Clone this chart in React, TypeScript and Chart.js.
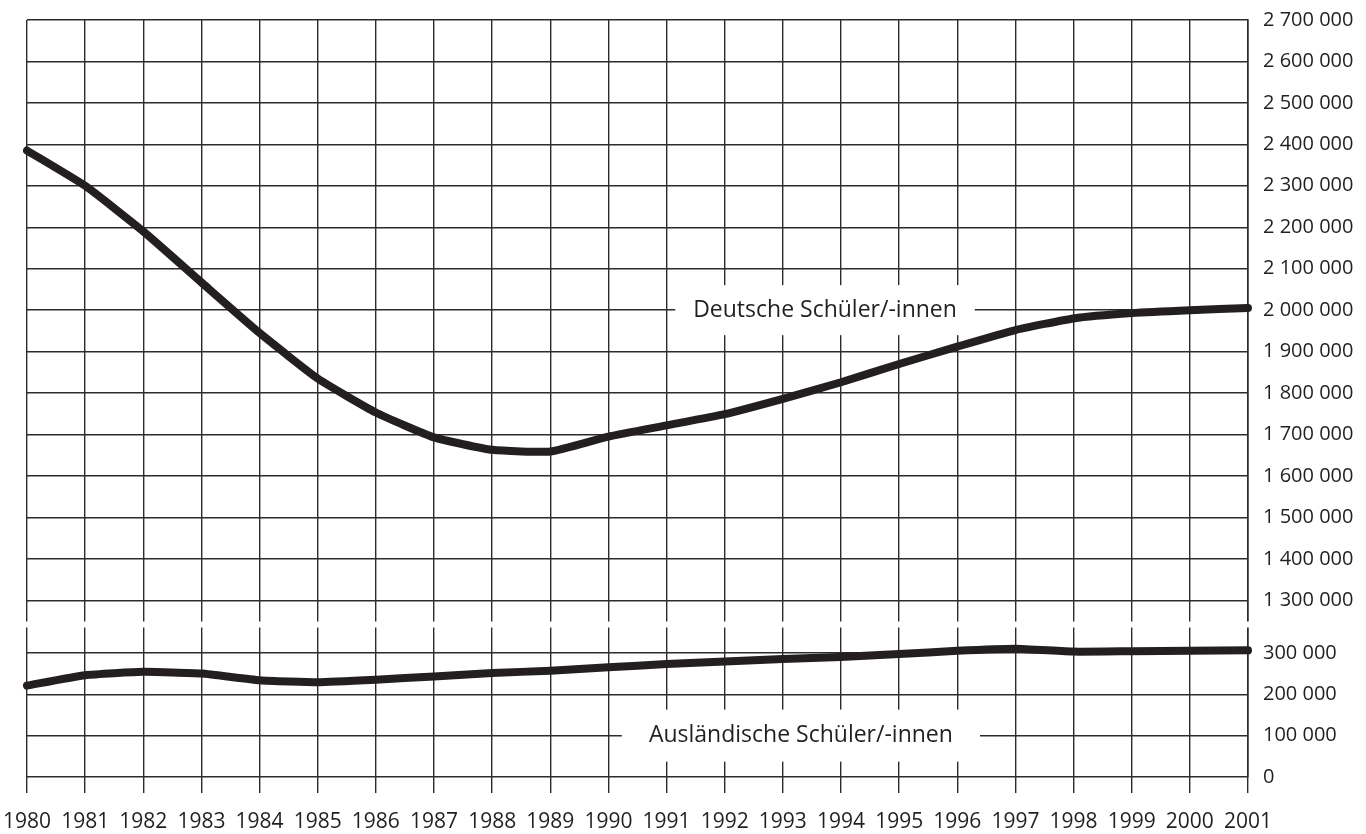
import React, { useEffect, useRef } from "react";
import { Chart, registerables } from "chart.js";

Chart.register(...registerables);

const years = [
  "1980", "1981", "1982", "1983", "1984", "1985", "1986", "1987", "1988", "1989", "1990",
  "1991", "1992", "1993", "1994", "1995", "1996", "1997", "1998", "1999", "2000", "2001",
];

const deutscheSchueler = [
  2385000, 2300000, 2190000, 2067000, 1945000, 1835000, 1753000, 1693000, 1663000, 1659000, 1695000,
  1722000, 1749000, 1786000, 1826000, 1870000, 1912000, 1952000, 1980000, 1993000, 2000000, 2005000,
];

const auslaendischeSchueler = [
  221000, 246000, 254000, 250000, 234000, 229000, 235000, 243000, 251000, 257000, 265000,
  273000, 279000, 285000, 290000, 297000, 305000, 310000, 303000, 304000, 305000, 306000,
];

const upperTicks = [1300000, 1400000, 1500000, 1600000, 1700000, 1800000, 1900000, 2000000, 2100000, 2200000, 2300000, 2400000, 2500000, 2600000, 2700000];
const lowerTicks = [0, 100000, 200000, 300000];

const seriesLabels = ["Deutsche Schüler/-innen", "Ausländische Schüler/-innen"];

const INK = "#231f20";
const GRID = "#2e2b2c";
const FONT = "'Open Sans', 'Noto Sans', sans-serif";

const fmt = (v: number) => String(Math.round(v)).replace(/\B(?=(\d{3})+(?!\d))/g, " ");

const gapPlugin = {
  id: "axisBreak",
  beforeDatasetsDraw(chart: any) {
    const { ctx, chartArea } = chart;
    const gap = chart.scales.yGap;
    if (!gap) return;
    ctx.save();
    ctx.fillStyle = "#ffffff";
    ctx.fillRect(chartArea.left - 4, gap.top + 0.5, chartArea.right - chartArea.left + 8, gap.bottom - gap.top - 1);
    ctx.restore();
  },
};

const labelPlugin = {
  id: "seriesLabels",
  beforeDatasetsDraw(chart: any) {
    const { ctx } = chart;
    const x = chart.scales.x;
    const items = [
      { text: seriesLabels[0], scale: chart.scales.yUpper, value: 2000000, from: 11.15, to: 16.3, half: 25 },
      { text: seriesLabels[1], scale: chart.scales.yLower, value: 100000, from: 10.23, to: 16.39, half: 26 },
    ];
    ctx.save();
    for (const it of items) {
      const x0 = x.getPixelForValue(it.from);
      const x1 = x.getPixelForValue(it.to);
      const cy = it.scale.getPixelForValue(it.value);
      ctx.fillStyle = "#ffffff";
      ctx.fillRect(x0, cy - it.half, x1 - x0, it.half * 2);
      ctx.fillStyle = INK;
      ctx.font = `23px ${FONT}`;
      ctx.textAlign = "center";
      ctx.textBaseline = "middle";
      ctx.fillText(it.text, (x0 + x1) / 2, cy);
    }
    ctx.restore();
  },
};

const zeroPadY = (s: any) => {
  s.width = 118;
  s.paddingTop = 0;
  s.paddingBottom = 0;
};

export default function App() {
  const ref = useRef<HTMLCanvasElement | null>(null);

  useEffect(() => {
    if (!ref.current) return;
    const xFont = { family: FONT, size: 21 };
    const yFont = { family: FONT, size: 20 };
    const lineStyle = {
      borderColor: INK,
      borderWidth: 8,
      pointRadius: 0,
      tension: 0.15,
      borderCapStyle: "round",
      borderJoinStyle: "round",
      fill: false,
    };
    const chart = new Chart(ref.current, {
      type: "line",
      data: {
        labels: years,
        datasets: [
          { label: seriesLabels[0], data: deutscheSchueler, yAxisID: "yUpper", ...lineStyle },
          { label: seriesLabels[1], data: auslaendischeSchueler, yAxisID: "yLower", ...lineStyle },
        ],
      },
      options: {
        animation: false,
        responsive: false,
        layout: { padding: { left: 27, top: 20, right: 0, bottom: 0 } },
        plugins: {
          legend: { display: false },
          tooltip: { enabled: false },
        },
        scales: {
          x: {
            type: "category",
            offset: false,
            grid: { color: GRID, lineWidth: 1.4, tickLength: 16, drawTicks: true, tickColor: GRID },
            border: { display: false },
            ticks: { color: INK, font: xFont, padding: 16, maxRotation: 0, autoSkip: false },
            afterFit: (s: any) => {
              s.height = 57;
              s.paddingLeft = 0;
              s.paddingRight = 0;
            },
          },
          yUpper: {
            type: "linear",
            position: "right",
            stack: "y",
            stackWeight: 601,
            min: 1250000,
            max: 2700000,
            grid: { color: GRID, lineWidth: 1.4, drawTicks: false },
            border: { display: true, color: GRID, width: 1.6 },
            ticks: { color: INK, font: yFont, padding: 15, autoSkip: false, callback: (v: any) => fmt(Number(v)) },
            afterBuildTicks: (s: any) => { s.ticks = upperTicks.map((v) => ({ value: v })); },
            afterFit: zeroPadY,
          },
          yGap: {
            type: "linear",
            position: "right",
            stack: "y",
            stackWeight: 7,
            min: 0,
            max: 1,
            grid: { display: false, drawTicks: false },
            border: { display: false },
            ticks: { display: false },
            afterFit: zeroPadY,
          },
          yLower: {
            type: "linear",
            position: "right",
            stack: "y",
            stackWeight: 149,
            min: 0,
            max: 360000,
            grid: { color: GRID, lineWidth: 1.4, drawTicks: false },
            border: { display: true, color: GRID, width: 1.6 },
            ticks: { color: INK, font: yFont, padding: 15, autoSkip: false, callback: (v: any) => fmt(Number(v)) },
            afterBuildTicks: (s: any) => { s.ticks = lowerTicks.map((v) => ({ value: v })); },
            afterFit: zeroPadY,
          },
        },
      } as any,
      plugins: [gapPlugin, labelPlugin],
    });
    return () => chart.destroy();
  }, []);

  return (
    <div style={{ position: "fixed", left: 0, top: 0, width: 1366, height: 834, background: "#fff" }}>
      <canvas ref={ref} width={1366} height={834} style={{ display: "block" }} />
    </div>
  );
}
